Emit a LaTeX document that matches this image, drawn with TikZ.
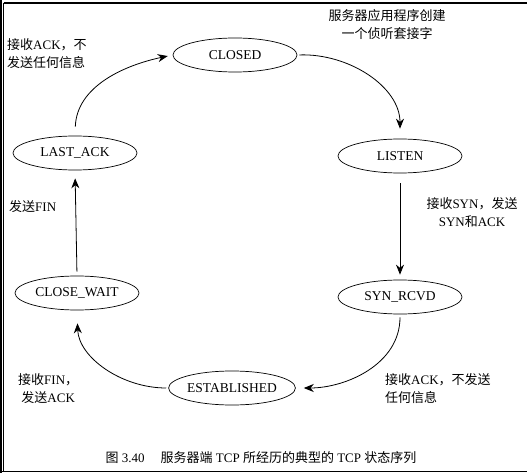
\documentclass[tikz,border=0pt]{standalone}
\usepackage{fontspec}
\setmainfont{Liberation Serif}
\newfontfamily\cjk{Noto Sans CJK SC}
\newcommand{\zh}[1]{{\cjk #1}}
\usetikzlibrary{shapes.geometric,arrows.meta}
\begin{document}
\begin{tikzpicture}[x=1pt,y=-1pt,
  state/.style={ellipse,draw,line width=0.7pt,minimum width=124pt,minimum height=34pt,inner sep=0pt,font=\fontsize{13.5}{16}\selectfont},
  conn/.style={line width=0.8pt,-{Stealth[length=10pt,width=8pt]}},
  lab/.style={font=\fontsize{13}{18}\selectfont,inner sep=0pt},
  frame/.style={line width=1.2pt}]
\useasboundingbox (0,0) rectangle (527,473);
% frame
\fill (0,0) rectangle (2.2,473);
\draw[frame] (3.6,3) -- (527,3);
\draw[frame] (3.6,3) -- (3.6,471.5);
\draw[frame] (0,471.5) -- (527,471.5);
% states
\node[state] (closed) at (235,55) {CLOSED};
\node[state] (listen) at (400,156) {LISTEN};
\node[state] (lastack) at (75,153) {LAST\_ACK};
\node[state] (closewait) at (77,293) {CLOSE\_WAIT};
\node[state] (synrcvd) at (400,297) {SYN\_RCVD};
\node[state] (estab) at (232,388) {ESTABLISHED};
% transitions
\draw[conn,shorten <=9pt,shorten >=5pt] (lastack.north) to[out=88,in=192] (closed.west);
\draw[conn,shorten <=2pt,shorten >=10pt] (closed.east) to[out=2,in=90] (listen.north);
\draw[conn,shorten <=10pt,shorten >=5pt] (listen.south) -- (synrcvd.north);
\draw[conn,shorten <=3pt,shorten >=8pt] (synrcvd.south) to[out=-90,in=0] (estab.east);
\draw[conn,shorten <=2pt,shorten >=13pt] (estab.west) to[out=180,in=-88] (closewait.south);
\draw[conn,shorten <=4pt,shorten >=8pt] (closewait.north) -- (lastack.south);
% labels
\node[lab,align=center] (l1) at (387,25) {\zh{服务器应用程序创建}\\\zh{一个侦听套接字}};
\node[lab,align=left,anchor=west] (l2) at (7,54) {\zh{接收}ACK\zh{，不}\\\zh{发送任何信息}};
\node[lab,anchor=west] (l3) at (9,207) {\zh{发送}FIN};
\node[lab,align=center] (l4) at (472,213) {\zh{接收}SYN\zh{，发送}\\SYN\zh{和}ACK};
\node[lab,align=left,anchor=west] (l5) at (18,389) {\zh{接收}FIN\zh{，}\\\ \zh{发送}ACK};
\node[lab,align=left,anchor=west] (l6) at (385,389) {\zh{接收}ACK\zh{，不发送}\\\zh{任何信息}};
\node[inner sep=0pt,font=\fontsize{13}{15}\selectfont] (cap) at (261,458) {\zh{图}~3.40\hspace{16pt}\zh{服务器端}~TCP~\zh{所经历的典型的}~TCP~\zh{状态序列}};
\end{tikzpicture}
\end{document}
